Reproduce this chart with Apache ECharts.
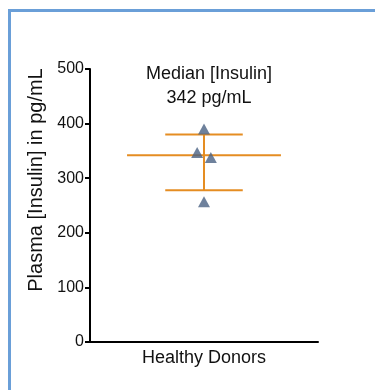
<!DOCTYPE html>
<html>
<head>
<meta charset="utf-8">
<script src="https://cdn.jsdelivr.net/npm/echarts@6/dist/echarts.min.js"></script>
<style>
html,body{margin:0;padding:0;background:#fff;}
#frame{position:absolute;left:8px;top:9px;width:400px;height:400px;border-top:3px solid #6a9fd8;border-left:3px solid #6a9fd8;}
#chart{position:absolute;left:0;top:0;width:375px;height:390px;}
</style>
</head>
<body>
<div id="frame"></div>
<div id="chart"></div>
<script>
const categories = ['Healthy Donors'];
const insulinValues = [390, 347, 338, 257];
const jitter = [0, -0.06, 0.06, 0];
const medianValue = 342;
const whiskerUpper = 380;
const whiskerLower = 278;
const yTicks = [0, 100, 200, 300, 400, 500];
const titleLines = ['Median [Insulin]', '342 pg/mL'];
const yAxisTitle = 'Plasma [Insulin] in pg/mL';

const chart = echarts.init(document.getElementById('chart'), null, {renderer: 'canvas'});
const FONT = 'Liberation Sans, Arial, sans-serif';
const ORANGE = '#e58d22';
const center = 1;

const points = insulinValues.map((v, i) => [center + jitter[i], v]);

chart.setOption({
  animation: false,
  title: {
    text: titleLines.join('\n'),
    left: 204, top: 57, textAlign: 'center',
    textStyle: {fontFamily: FONT, fontSize: 18, fontWeight: 'normal', color: '#111', lineHeight: 24}
  },
  graphic: [{
    type: 'text', x: 36, y: 180, rotation: Math.PI / 2,
    style: {text: yAxisTitle, fontFamily: FONT, fontSize: 20, fill: '#111', align: 'center', verticalAlign: 'middle'}
  }],
  grid: {left: 90, right: 57, top: 69, bottom: 48},
  xAxis: [{
    type: 'category', data: categories, boundaryGap: true,
    axisLine: {lineStyle: {color: '#000', width: 2}},
    axisTick: {alignWithLabel: true, length: 4, lineStyle: {color: '#000', width: 2}},
    axisLabel: {fontFamily: FONT, fontSize: 18, color: '#111', margin: 7}
  }, {
    type: 'value', min: 0, max: 2, show: false
  }],
  yAxis: {
    type: 'value', min: yTicks[0], max: yTicks[yTicks.length - 1], interval: 100,
    splitLine: {show: false},
    axisLine: {show: true, lineStyle: {color: '#000', width: 2}},
    axisTick: {show: true, length: 5, lineStyle: {color: '#000', width: 2}},
    axisLabel: {fontFamily: FONT, fontSize: 16, color: '#111', margin: 6}
  },
  series: [{
    type: 'line', xAxisIndex: 1, symbol: 'none', silent: true,
    lineStyle: {color: ORANGE, width: 2},
    data: [[0.325, medianValue], [1.675, medianValue]]
  }, {
    type: 'line', xAxisIndex: 1, symbol: 'none', silent: true,
    lineStyle: {color: ORANGE, width: 2},
    data: [[0.66, whiskerUpper], [1.34, whiskerUpper]]
  }, {
    type: 'line', xAxisIndex: 1, symbol: 'none', silent: true,
    lineStyle: {color: ORANGE, width: 2},
    data: [[0.66, whiskerLower], [1.34, whiskerLower]]
  }, {
    type: 'line', xAxisIndex: 1, symbol: 'none', silent: true,
    lineStyle: {color: ORANGE, width: 2},
    data: [[center, whiskerLower], [center, whiskerUpper]]
  }, {
    type: 'scatter', xAxisIndex: 1, symbol: 'triangle', symbolSize: [12, 11],
    itemStyle: {color: '#4a6283'},
    data: points, z: 5
  }]
});
</script>
</body>
</html>
